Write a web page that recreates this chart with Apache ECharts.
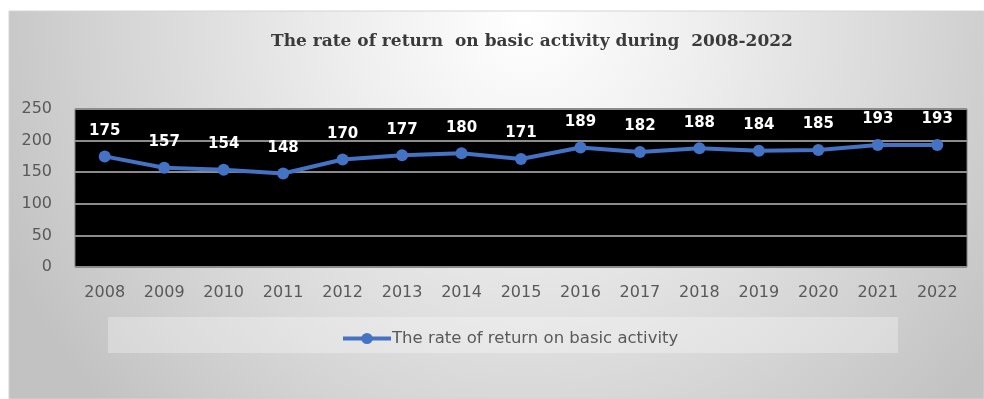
<!DOCTYPE html>
<html>
<head>
<meta charset="utf-8">
<title>The rate of return on basic activity during 2008-2022</title>
<script src="https://cdn.jsdelivr.net/npm/echarts@6/dist/echarts.min.js"></script>
<style>
  html, body { margin: 0; padding: 0; background: #ffffff; }
  #chart { width: 984px; height: 399px; }
</style>
</head>
<body>
<div id="chart"></div>
<script>
// Yearly rate of return on basic activity
const years = ['2008', '2009', '2010', '2011', '2012', '2013', '2014', '2015',
               '2016', '2017', '2018', '2019', '2020', '2021', '2022'];
const returnRate = [175, 157, 154, 148, 170, 177, 180, 171, 189, 182, 188, 184, 185, 193, 193];
const yTicks = [0, 50, 100, 150, 200, 250];

const seriesName = 'The rate of return on basic activity';
const chartTitle = 'The rate of return  on basic activity during  2008-2022';

const chart = echarts.init(document.getElementById('chart'), null, { renderer: 'canvas' });

chart.setOption({
  animation: false,
  backgroundColor: '#ffffff',
  graphic: [
    {
      // grey panel behind the whole chart, lighter towards the top centre
      type: 'rect',
      z: -10,
      silent: true,
      shape: { x: 9, y: 11, width: 975, height: 388 },
      style: {
        fill: new echarts.graphic.RadialGradient(525, 20, 570, [
          { offset: 0, color: '#ffffff' },
          { offset: 0.3, color: '#efefef' },
          { offset: 0.7, color: '#d6d6d6' },
          { offset: 1, color: '#c2c2c2' }
        ], true),
        stroke: '#d4d4d4',
        lineWidth: 1
      }
    },
    {
      // legend panel
      type: 'rect',
      z: -9,
      silent: true,
      shape: { x: 108, y: 317, width: 790, height: 36 },
      style: { fill: 'rgba(255,255,255,0.3)' }
    }
  ],
  title: {
    text: chartTitle,
    left: 266,
    top: 28,
    textStyle: {
      fontFamily: 'DejaVu Serif',
      fontWeight: 'bold',
      fontSize: 17,
      color: '#3a3a3a'
    }
  },
  legend: {
    data: [seriesName],
    top: 325,
    left: 336,
    itemWidth: 48,
    itemHeight: 14,
    itemGap: 0,
    lineStyle: { width: 4 },
    textStyle: {
      fontFamily: 'DejaVu Sans',
      fontSize: 16.5,
      color: '#595959',
      padding: [0, 0, 0, -4]
    }
  },
  grid: {
    left: 75,
    right: 17,
    top: 109,
    bottom: 132,
    show: true,
    backgroundColor: '#000000',
    borderColor: '#7f7f7f',
    borderWidth: 1
  },
  xAxis: {
    type: 'category',
    data: years,
    boundaryGap: true,
    axisLine: { show: false },
    axisTick: { show: false },
    axisLabel: {
      margin: 18,
      fontFamily: 'DejaVu Sans',
      fontSize: 16,
      color: '#595959'
    }
  },
  yAxis: {
    type: 'value',
    min: yTicks[0],
    max: yTicks[yTicks.length - 1],
    interval: 50,
    axisLine: { show: false },
    axisTick: { show: false },
    axisLabel: {
      margin: 23,
      fontFamily: 'DejaVu Sans',
      fontSize: 16,
      color: '#595959'
    },
    splitLine: { lineStyle: { color: '#8c8c8c', width: 2 } }
  },
  series: [
    {
      name: seriesName,
      type: 'line',
      data: returnRate,
      symbol: 'circle',
      symbolSize: 12,
      itemStyle: { color: '#4472c4' },
      lineStyle: { color: '#4472c4', width: 4 },
      label: {
        show: true,
        position: 'top',
        distance: 12,
        color: '#ffffff',
        fontFamily: 'DejaVu Sans',
        fontWeight: 'bold',
        fontSize: 15
      }
    }
  ]
});
</script>
</body>
</html>
